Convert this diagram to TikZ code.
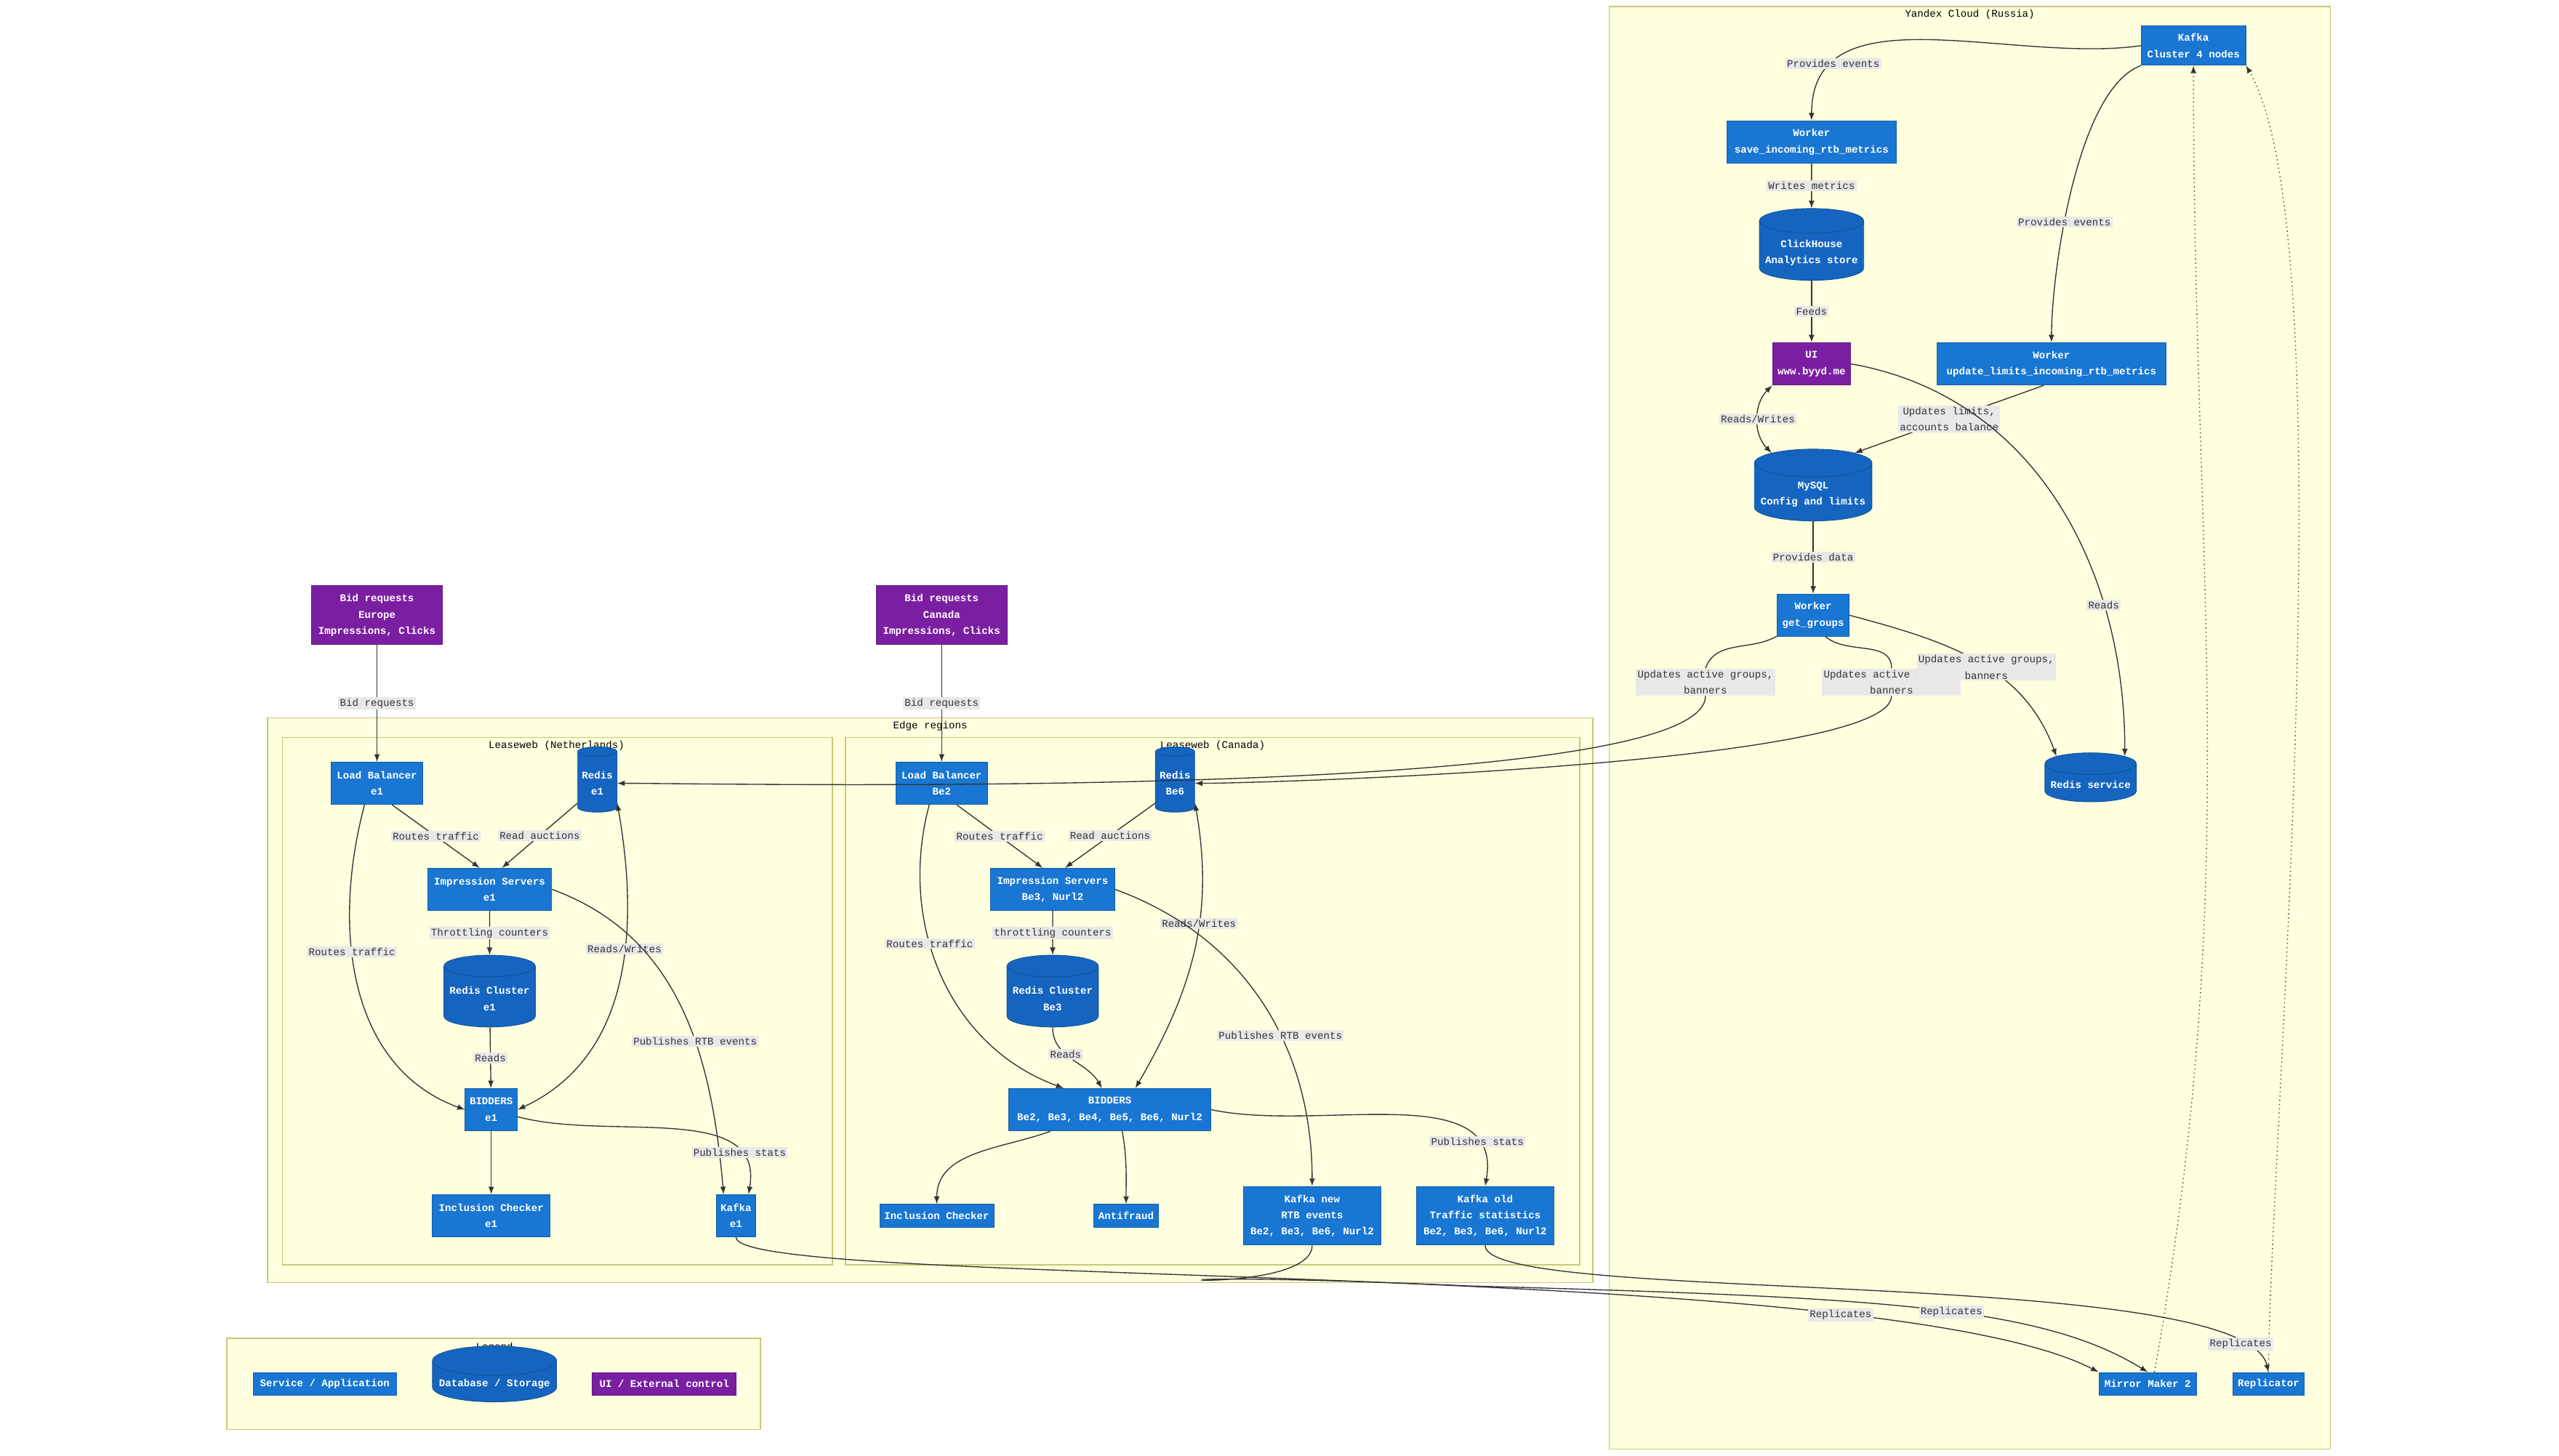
\documentclass[tikz,border=0pt]{standalone}
\usepackage{fontspec}
\setmainfont{Liberation Mono}
\usetikzlibrary{shapes.geometric,arrows}
\definecolor{svcblue}{HTML}{1976D2}
\definecolor{dbblue}{HTML}{1565C0}
\definecolor{uipurple}{HTML}{7B1FA2}
\definecolor{grpfill}{HTML}{FFFEDE}
\definecolor{grpline}{HTML}{C8C878}
\definecolor{lblfill}{HTML}{E8E8E8}
\definecolor{linecol}{HTML}{333333}
\begin{document}
\begin{tikzpicture}
[x=1pt,y=-1pt, font=\fontsize{6.3}{10}\selectfont,
 svc/.style={shape=rectangle,fill=svcblue,draw=svcblue!80!black,text=white,font=\fontsize{6.3}{10}\selectfont\bfseries,align=center,inner sep=2pt},
 db/.style={shape=cylinder,shape border rotate=90,aspect=0.25,fill=dbblue,draw=dbblue!80!black,text=white,font=\fontsize{6.3}{10}\selectfont\bfseries,align=center,inner sep=2pt},
 ext/.style={svc,fill=uipurple,draw=uipurple!80!black},
 grp/.style={fill=grpfill,draw=grpline,line width=0.6pt},
 lbl/.style={fill=lblfill,inner sep=1pt,align=center,text=black!80},
 lineDecorate/.style={-latex,line width=0.6pt,draw=linecol},
 dotDecorate/.style={-latex,line width=0.6pt,draw=linecol,dotted}]

\useasboundingbox (0,0) rectangle (1568,892);

% groups
\draw[grp] (986,4) rectangle (1428,888);
\node at (1207,9) {Yandex Cloud (Russia)};
\draw[grp] (164,440) rectangle (976,786);
\node at (570,445) {Edge regions};
\draw[grp] (173,452) rectangle (510,775);
\node at (341,457) {Leaseweb (Netherlands)};
\draw[grp] (518,452) rectangle (968,775);
\node at (743,457) {Leaseweb (Canada)};
\draw[grp] (139,820) rectangle (466,876);
\node at (303,826) {Legend};

% yandex nodes
\node (kc) at (1344,28) [svc,minimum width=64,minimum height=24] {Kafka\\Cluster 4 nodes};
\node (ws) at (1110,87) [svc,minimum width=104,minimum height=26] {Worker\\save\_incoming\_rtb\_metrics};
\node (ch) at (1110,155) [db,minimum width=64,minimum height=44] {ClickHouse\\Analytics store};
\node (ui) at (1110,223) [ext,minimum width=48,minimum height=26] {UI\\www.byyd.me};
\node (wu) at (1257,223) [svc,minimum width=140,minimum height=26] {Worker\\update\_limits\_incoming\_rtb\_metrics};
\node (my) at (1111,303) [db,minimum width=72,minimum height=44] {MySQL\\Config and limits};
\node (gg) at (1111,377) [svc,minimum width=44,minimum height=26] {Worker\\get\_groups};
\node (rs) at (1281,481) [db,minimum width=56,minimum height=30] {Redis service};
\node (mm) at (1316,848) [svc,minimum width=60,minimum height=14] {Mirror Maker 2};
\node (rep) at (1390,848) [svc,minimum width=44,minimum height=14] {Replicator};

% bid sources
\node (bre) at (231,377) [ext,minimum width=80,minimum height=36] {Bid requests\\Europe\\Impressions, Clicks};
\node (brc) at (577,377) [ext,minimum width=80,minimum height=36] {Bid requests\\Canada\\Impressions, Clicks};

% netherlands
\node (lbe1) at (231,480) [svc,minimum width=56,minimum height=26] {Load Balancer\\e1};
\node (re1) at (366,480) [db,minimum width=24,minimum height=40] {Redis\\e1};
\node (ime1) at (300,545) [svc,minimum width=76,minimum height=26] {Impression Servers\\e1};
\node (rce1) at (300,612) [db,minimum width=56,minimum height=44] {Redis Cluster\\e1};
\node (be1) at (301,680) [svc,minimum width=32,minimum height=26] {BIDDERS\\e1};
\node (ice1) at (301,745) [svc,minimum width=72,minimum height=26] {Inclusion Checker\\e1};
\node (ke1) at (451,745) [svc,minimum width=24,minimum height=26] {Kafka\\e1};

% canada
\node (lbb2) at (577,480) [svc,minimum width=56,minimum height=26] {Load Balancer\\Be2};
\node (rb6) at (720,480) [db,minimum width=24,minimum height=40] {Redis\\Be6};
\node (imb3) at (645,545) [svc,minimum width=76,minimum height=26] {Impression Servers\\Be3, Nurl2};
\node (rcb3) at (645,612) [db,minimum width=56,minimum height=44] {Redis Cluster\\Be3};
\node (bb) at (680,680) [svc,minimum width=124,minimum height=26] {BIDDERS\\Be2, Be3, Be4, Be5, Be6, Nurl2};
\node (icb) at (574,745) [svc,minimum width=70,minimum height=14] {Inclusion Checker};
\node (af) at (690,745) [svc,minimum width=40,minimum height=14] {Antifraud};
\node (kn) at (804,745) [svc,minimum width=84,minimum height=36] {Kafka new\\RTB events\\Be2, Be3, Be6, Nurl2};
\node (ko) at (910,745) [svc,minimum width=84,minimum height=36] {Kafka old\\Traffic statistics\\Be2, Be3, Be6, Nurl2};

% legend
\node (lgs) at (199,848) [svc,minimum width=88,minimum height=14] {Service / Application};
\node (lgd) at (303,848) [db,minimum width=76,minimum height=30] {Database / Storage};
\node (lgu) at (407,848) [ext,minimum width=88,minimum height=14] {UI / External control};

% label nodes on long paths
\node (u1) at (1045,418) [lbl] {Updates active groups,\\banners};
\node (u2) at (1159,418) [lbl] {Updates active groups,\\banners};

% yandex edges
\draw[lineDecorate] (kc.west) to[out=188,in=90] node[lbl,pos=0.8] {Provides events} (ws.north);
\draw[lineDecorate] (kc.south west) to[out=200,in=90,looseness=0.6] node[lbl,pos=0.6] {Provides events} (wu.north);
\draw[lineDecorate] (ws) -- node[lbl] {Writes metrics} (ch);
\draw[lineDecorate] (ch) -- node[lbl] {Feeds} (ui);
\draw[latex-latex,line width=0.6pt,draw=linecol] (ui.south west) to[out=225,in=135] node[lbl] {Reads/Writes} (my.north west);
\draw[lineDecorate] (wu.250) -- node[lbl] {Updates limits,\\accounts balance} (my.north east);
\draw[lineDecorate] (ui.east) to[out=-10,in=90] node[lbl,pos=0.72] {Reads} (rs.40);
\draw[lineDecorate] (my) -- node[lbl] {Provides data} (gg);
\draw[lineDecorate] (gg.east) to[out=-15,in=110] node[lbl,pos=0.55] {Updates active groups,\\banners} (rs.140);
\draw[line width=0.6pt,draw=linecol] (gg.210) to[out=210,in=70] (u1.north);
\draw[lineDecorate] (u1.south) to[out=-90,in=0,looseness=0.25] (re1.east);
\draw[line width=0.6pt,draw=linecol] (gg.-60) to[out=-40,in=90] (u2.north);
\draw[lineDecorate] (u2.south) to[out=-90,in=0,looseness=0.25] (rb6.east);
\draw[dotDecorate] (mm.60) to[out=80,in=-90] (kc.south);
\draw[dotDecorate] (rep.north) to[out=90,in=-60,looseness=0.4] (kc.south east);

% replication
\draw[lineDecorate] (ke1.south) .. controls (451,790) and (1150,770) .. node[lbl,pos=0.78] {Replicates} (mm.north west);
\draw[lineDecorate] (kn.south) .. controls (804,800) and (600,775) .. (900,788) .. controls (1150,795) and (1250,800) .. node[lbl,pos=0.55] {Replicates} (mm.north);
\draw[lineDecorate] (ko.south) .. controls (910,800) and (1375,775) .. node[lbl,pos=0.9] {Replicates} (rep.north);

% bid requests
\draw[lineDecorate] (bre) -- node[lbl] {Bid requests} (lbe1);
\draw[lineDecorate] (brc) -- node[lbl] {Bid requests} (lbb2);

% netherlands edges
\draw[lineDecorate] (lbe1.-55) -- node[lbl] {Routes traffic} (ime1.115);
\draw[lineDecorate] (re1.south west) -- node[lbl] {Read auctions} (ime1.60);
\draw[lineDecorate] (lbe1.240) to[out=-105,in=160] node[lbl,pos=0.4] {Routes traffic} (be1.west);
\draw[lineDecorate] (ime1) -- node[lbl] {Throttling counters} (rce1);
\draw[latex-latex,line width=0.6pt,draw=linecol] (re1.south east) to[out=-80,in=25] node[lbl,pos=0.4] {Reads/Writes} (be1.east);
\draw[lineDecorate] (ime1.east) to[out=-20,in=95] node[lbl,pos=0.6] {Publishes RTB events} (ke1.120);
\draw[lineDecorate] (rce1) -- node[lbl] {Reads} (be1);
\draw[lineDecorate] (be1) -- (ice1);
\draw[lineDecorate] (be1.-15) to[out=-15,in=80] node[lbl,pos=0.8] {Publishes stats} (ke1.60);

% canada edges
\draw[lineDecorate] (lbb2.-55) -- node[lbl] {Routes traffic} (imb3.115);
\draw[lineDecorate] (rb6.south west) -- node[lbl] {Read auctions} (imb3.60);
\draw[lineDecorate] (lbb2.240) to[out=-105,in=160] node[lbl,pos=0.4] {Routes traffic} (bb.155);
\draw[lineDecorate] (imb3) -- node[lbl] {throttling counters} (rcb3);
\draw[latex-latex,line width=0.6pt,draw=linecol] (rb6.south east) to[out=-80,in=60] node[lbl,pos=0.4] {Reads/Writes} (bb.40);
\draw[lineDecorate] (imb3.east) to[out=-20,in=90] node[lbl,pos=0.6] {Publishes RTB events} (kn.north);
\draw[lineDecorate] (rcb3.south) to[out=-90,in=120] node[lbl,pos=0.4] {Reads} (bb.110);
\draw[lineDecorate] (bb.200) to[out=200,in=90] (icb.north);
\draw[lineDecorate] (bb.-60) to[out=-80,in=90] (af.north);
\draw[lineDecorate] (bb.east) to[out=-12,in=80] node[lbl,pos=0.82] {Publishes stats} (ko.north);
\end{tikzpicture}
\end{document}
